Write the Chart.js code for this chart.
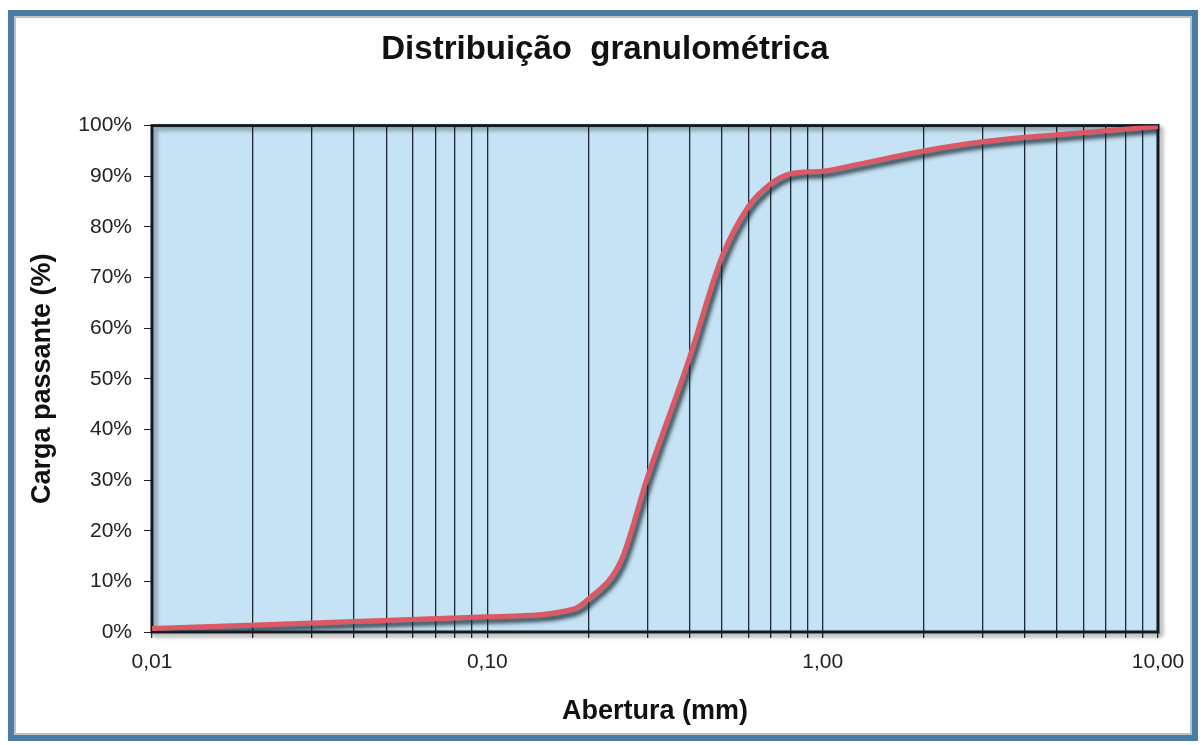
<!DOCTYPE html>
<html>
<head>
<meta charset="utf-8">
<script src="https://cdn.jsdelivr.net/npm/chart.js@4.4.1/dist/chart.umd.min.js"></script>
<style>
  html, body { margin: 0; padding: 0; background: #fff; }
  #wrap { position: relative; width: 1204px; height: 745px; }
  #frame {
    position: absolute; left: 8px; top: 10px; width: 1190px; height: 731px;
    box-sizing: border-box; border: 6px solid #4b7ca6;
    box-shadow: inset 0 0 0 2px #b9c3cb; pointer-events: none;
  }
</style>
</head>
<body>
<div id="wrap">
  <canvas id="granChart" width="1204" height="745"></canvas>
  <div id="frame"></div>
</div>
<script>
// Curva granulométrica: abertura da peneira (mm) x carga passante (%)
var aberturas = [0.01, 0.1, 0.18, 0.2, 0.25, 0.3, 0.4, 0.5, 0.6, 0.7, 0.8, 1.0, 1.2, 2.0, 3.0, 5.0, 10.0];
var passante  = [0.7,  3.0, 4.5,  6.5, 14,   30.5, 54,  74,  84,  88.5, 90.5, 91, 92, 95, 96.8, 98.2, 99.8];

// Linhas verticais da escala log
var marcasX = [0.01, 0.02, 0.03, 0.04, 0.05, 0.06, 0.07, 0.08, 0.09,
               0.1, 0.2, 0.3, 0.4, 0.5, 0.6, 0.7, 0.8, 0.9,
               1, 2, 3, 4, 5, 6, 7, 8, 9, 10];

var fonte = "'Liberation Sans', Arial, sans-serif";

// fundo azul e moldura da área do gráfico
var areaPlugin = {
    id: 'areaPlugin',
    beforeDraw: function(chart) {
        var a = chart.chartArea, ctx = chart.ctx;
        ctx.save();
        ctx.fillStyle = '#c5e3f4';
        ctx.fillRect(a.left, a.top, a.right - a.left, a.bottom - a.top);
        ctx.restore();
    },
    beforeDatasetsDraw: function(chart) {
        var a = chart.chartArea, ctx = chart.ctx;
        ctx.save();
        ctx.shadowColor = 'rgba(0,0,0,0.45)';
        ctx.shadowOffsetX = 3;
        ctx.shadowOffsetY = 3;
        ctx.shadowBlur = 4;
        ctx.strokeStyle = '#111a22';
        ctx.lineWidth = 3;
        ctx.strokeRect(a.left, a.top, a.right - a.left, a.bottom - a.top);
        ctx.restore();
    },
    beforeDatasetDraw: function(chart) {
        var ctx = chart.ctx;
        ctx.save();
        ctx.shadowColor = 'rgba(25,40,50,0.9)';
        ctx.shadowOffsetX = 3;
        ctx.shadowOffsetY = 4;
        ctx.shadowBlur = 4;
    },
    afterDatasetDraw: function(chart) {
        chart.ctx.restore();
    }
};

var chart = new Chart(document.getElementById('granChart'), {
    type: 'line',
    data: {
        datasets: [{
            data: aberturas.map(function(x, i) { return { x: x, y: passante[i] }; }),
            borderColor: '#dc5865',
            borderWidth: 5,
            pointRadius: 0,
            cubicInterpolationMode: 'monotone',
            fill: false
        }]
    },
    plugins: [areaPlugin],
    options: {
        responsive: false,
        animation: false,
        layout: { padding: { left: 16, right: 10, top: 0, bottom: 0 } },
        plugins: {
            legend: { display: false },
            tooltip: { enabled: false },
            title: {
                display: true,
                text: 'Distribuição  granulométrica',
                color: '#111',
                font: { family: fonte, size: 33, weight: 'bold' },
                padding: { top: 30, bottom: 56 }
            }
        },
        scales: {
            x: {
                type: 'logarithmic',
                min: 0.01,
                max: 10,
                afterBuildTicks: function(scale) {
                    scale.ticks = marcasX.map(function(v) { return { value: v }; });
                },
                afterFit: function(scale) { scale.height = 113; },
                border: { display: false },
                grid: { color: '#1c2a36', lineWidth: 1.3, tickLength: 6 },
                ticks: {
                    autoSkip: false,
                    maxRotation: 0,
                    padding: 12,
                    color: '#222',
                    font: { family: fonte, size: 21 },
                    callback: function(v) {
                        var l = Math.log10(v);
                        if (Math.abs(l - Math.round(l)) > 1e-6) return '';
                        return v.toFixed(2).replace('.', ',');
                    }
                },
                title: {
                    display: true,
                    text: 'Abertura (mm)',
                    color: '#111',
                    font: { family: fonte, size: 27, weight: 'bold' },
                    padding: { top: 0, bottom: 17 }
                }
            },
            y: {
                min: 0,
                max: 100,
                afterFit: function(scale) { scale.width = 136; },
                border: { display: false },
                grid: { drawOnChartArea: false, color: '#222', tickLength: 8 },
                ticks: {
                    stepSize: 10,
                    padding: 12,
                    color: '#222',
                    font: { family: fonte, size: 21 },
                    callback: function(v) { return v + '%'; }
                },
                title: {
                    display: true,
                    text: 'Carga passante (%)',
                    color: '#111',
                    font: { family: fonte, size: 27, weight: 'bold' },
                    padding: { top: 10, bottom: 0 }
                }
            },
            // margem à direita da área do gráfico
            yDir: {
                position: 'right',
                min: 0,
                max: 100,
                afterFit: function(scale) { scale.width = 36; },
                border: { display: false },
                grid: { display: false },
                ticks: { display: false }
            }
        }
    }
});
</script>
</body>
</html>
